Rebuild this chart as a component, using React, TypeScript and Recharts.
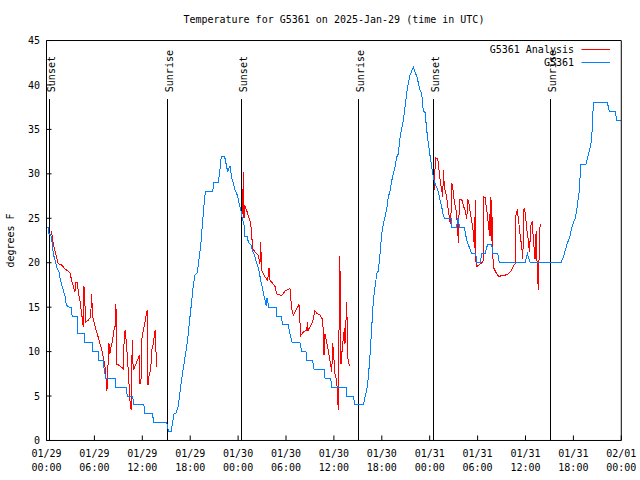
import React from 'react';
import { LineChart, Line, XAxis, YAxis, ReferenceLine, Legend } from 'recharts';

const FONT = '"DejaVu Sans Mono", "Liberation Mono", monospace';

// hours since 2025-01-29 00:00 UTC -> degrees F
const observed: [number, number][] = [
  [0, 24], [0.2, 24], [0.3, 23.3], [0.6, 23], [0.85, 21], [1.15, 20], [1.35, 19.3], [1.55, 19],
  [1.75, 18], [2.0, 17.2], [2.3, 16.3], [2.5, 15.2], [2.9, 15], [3.15, 15], [3.2, 14], [3.85, 14],
  [3.9, 12], [4.77, 12], [4.8, 11], [5.73, 11], [5.8, 10], [6.48, 10], [6.55, 9], [7.1, 9],
  [7.2, 8.2], [7.4, 7], [8.66, 7], [8.7, 6], [10.04, 6], [10.1, 5], [10.8, 5], [10.9, 4],
  [12.2, 4], [12.3, 3], [13.3, 3], [13.4, 2], [15.05, 2], [15.3, 1], [15.6, 1], [15.97, 3],
  [16.2, 3], [16.5, 3.9], [16.7, 5.25], [16.9, 6.75], [17.1, 7.9], [17.35, 9.4], [17.55, 10.5],
  [17.76, 12], [17.97, 13.9], [18.2, 15.75], [18.4, 17.6], [18.6, 18.6], [18.9, 18.9], [19.1, 20.4],
  [19.3, 21.75], [19.5, 24], [19.7, 26.25], [19.9, 28], [20.8, 28], [20.97, 29], [21.5, 29],
  [21.7, 30.2], [21.9, 32], [22.3, 32], [22.5, 31.1], [22.7, 30.2], [22.9, 30.8], [23.0, 30.8],
  [23.2, 29.6], [23.4, 28.9], [23.6, 28.2], [23.9, 27.6], [24.05, 27], [24.35, 25.9], [24.52, 25],
  [24.74, 24.2], [24.86, 23], [25.15, 23], [25.28, 22.3], [25.6, 22], [25.78, 21.4], [26.03, 20.9],
  [26.24, 20.2], [26.45, 19.7], [26.62, 19.1], [26.83, 18], [27.03, 17.2], [27.24, 16.3],
  [27.45, 15.5], [27.53, 15.1], [27.6, 16], [27.7, 16], [27.79, 15], [28.75, 15], [28.83, 14],
  [29.46, 14], [29.54, 13], [30.29, 13], [30.5, 12], [30.79, 11], [31.75, 11], [31.96, 10],
  [32.5, 10], [32.59, 9], [33.34, 9], [33.51, 8], [34.8, 8], [34.89, 7], [35.6, 7], [35.72, 6],
  [37.52, 6], [37.6, 5], [38.43, 5], [38.65, 4], [39.69, 4], [39.9, 4.9], [40.11, 5.6],
  [40.32, 7.1], [40.53, 9.75], [40.74, 12.75], [40.94, 15.75], [41.15, 17.25], [41.37, 18.75],
  [41.57, 19.1], [41.78, 21], [41.99, 23.25], [42.2, 24.4], [42.4, 25.1], [42.62, 26.1],
  [42.82, 27.4], [43.03, 28.1], [43.25, 29.25], [43.45, 30], [43.66, 30.75], [43.87, 31.9],
  [44.07, 32.25], [44.29, 34.1], [44.5, 35.1], [44.7, 36], [44.91, 37.5], [45.13, 39.2],
  [45.33, 40.3], [45.54, 41.1], [45.75, 41.6], [45.95, 42], [46.17, 41.4], [46.38, 41],
  [46.79, 39.4], [47.0, 39], [47.2, 37.1], [47.42, 36.9], [47.63, 34.9], [47.83, 33.4],
  [48.05, 32], [48.26, 30.75], [48.46, 29.6], [48.67, 28.9], [48.88, 28.5], [49.09, 27.9],
  [49.3, 27], [49.51, 26.25], [49.71, 25.3], [49.84, 25], [50.69, 25], [50.76, 24], [51.39, 24],
  [51.47, 25], [51.6, 25], [51.72, 24], [52.34, 24], [52.64, 22.5], [52.85, 22], [53.27, 21],
  [53.77, 21], [53.9, 20], [54.31, 20], [54.52, 21], [54.94, 21], [55.23, 22], [55.78, 22],
  [55.9, 21], [56.53, 21], [56.73, 20], [59.95, 20], [60.24, 21], [60.58, 20], [64.47, 20],
  [64.87, 21], [65.17, 22], [65.58, 23], [65.8, 24], [66.22, 25], [66.43, 26], [66.72, 28],
  [66.93, 31], [67.56, 31], [67.88, 32.2], [68.18, 33.2], [68.31, 34.3], [68.51, 38], [70.26, 38],
  [70.51, 37], [71.23, 37], [71.44, 36], [72, 36],
];

// analysis runs: three nightly pieces, nulls break the line
const analysis: [number, number | null][] = [
  [0.64, 23.6], [0.76, 22.5], [1.05, 21.4], [1.47, 19.9], [1.89, 19.75], [2.31, 19.3], [2.93, 18.9],
  [3.15, 18], [3.43, 17.1], [3.56, 16.7], [3.68, 17.8], [3.9, 17.8], [3.97, 16.7], [4.19, 15.75],
  [4.4, 14.25], [4.52, 13.5], [4.6, 12.8], [4.69, 17.4], [4.81, 15.9], [4.85, 13.3], [5.19, 13.5],
  [5.53, 13.9], [5.65, 16.5], [5.78, 13.9], [6.07, 12.9], [6.35, 12], [6.6, 11.25], [6.82, 10.5],
  [6.94, 10.1], [7.1, 9.4], [7.32, 8.4], [7.44, 7.1], [7.57, 5.6], [7.73, 9], [7.82, 11],
  [7.94, 9.75], [8.07, 10.5], [8.28, 11.25], [8.48, 12.6], [8.61, 12.9], [8.7, 15.4], [8.78, 8.6],
  [9.2, 8.4], [9.61, 8.06], [9.74, 11.8], [9.86, 12.4], [10.04, 10.5], [10.16, 9], [10.29, 7.1],
  [10.45, 4.5], [10.61, 3.4], [10.74, 11.25], [10.86, 7.9], [11.04, 8.25], [11.37, 9], [11.62, 9.56],
  [11.7, 6.4], [11.83, 6.4], [11.92, 11.25], [12.12, 12.4], [12.37, 13.5], [12.54, 14.4],
  [12.62, 14.7], [12.71, 6.2], [12.87, 7.5], [13.05, 7.9], [13.17, 10.1], [13.37, 10.9],
  [13.5, 11.8], [13.62, 12.45], [13.71, 10.1], [13.8, 8.25], [13.87, 8.4],
  [14, null],
  [24.49, 28.3], [24.57, 25.5], [24.65, 30.2], [24.74, 25], [24.82, 26.5], [25.07, 25.9],
  [25.49, 24.7], [25.7, 23.6], [25.78, 21.7], [26.11, 21.2], [26.53, 20.8], [26.74, 19.9],
  [26.83, 22.3], [26.95, 19.1], [27.37, 18.4], [27.7, 18], [27.87, 19.4], [28.0, 18], [28.6, 17.4],
  [28.84, 16.5], [29.46, 16.3], [29.87, 16.8], [30.5, 17.1], [30.71, 14.8], [30.92, 14.1],
  [31.34, 14.8], [31.63, 15.3], [31.84, 11.8], [32.17, 12.2], [32.59, 12.45], [32.7, 13.3],
  [32.76, 12.3], [32.88, 12.6], [33.22, 13.1], [33.42, 13.7], [33.63, 14.6], [33.85, 14.3],
  [34.26, 14.1], [34.6, 13.6], [34.76, 9.6], [34.89, 12], [35.1, 11], [35.3, 10.1], [35.51, 9],
  [35.73, 7.7], [35.85, 11], [36.02, 9], [36.14, 7.5], [36.35, 6.75], [36.52, 3.9], [36.6, 3.4],
  [36.68, 20.8], [36.8, 18.4], [36.89, 8.6], [37.06, 10.5], [37.31, 12.6], [37.39, 10.9],
  [37.61, 15.6], [37.73, 9.4], [37.93, 8.4],
  [40, null],
  [48.58, 28.2], [48.71, 31.8], [49.01, 31.7], [49.17, 30.4], [49.3, 29.4], [49.51, 28.1],
  [49.64, 27.4], [49.71, 30.4], [49.84, 28.5], [50.01, 27.9], [50.18, 27], [50.34, 25.9],
  [50.55, 24.6], [50.64, 24.4], [50.76, 29], [50.97, 27.9], [51.09, 26.8], [51.3, 25.9],
  [51.47, 24.4], [51.59, 22.2], [51.72, 27.1], [52.02, 27.1], [52.22, 26.4], [52.43, 25.9],
  [52.64, 24.9], [52.77, 27.2], [52.93, 26.6], [53.06, 25.7], [53.27, 24.7], [53.47, 23.4],
  [53.6, 21.7], [53.72, 27], [53.81, 19.5], [54.1, 19.7], [54.52, 20], [54.72, 20.2], [54.77, 27.4],
  [54.94, 27.3], [55.15, 25.9], [55.35, 24.4], [55.5, 23], [55.6, 27.4], [55.69, 22.5],
  [55.78, 27], [55.85, 22], [55.98, 19.5], [56.19, 19.1], [56.4, 18.75], [56.69, 18.4],
  [57.03, 18.6], [57.44, 18.6], [57.86, 18.75], [58.2, 19.1], [58.48, 19.6], [58.7, 19.9],
  [58.82, 25.7], [58.99, 25.9], [59.2, 24.2], [59.32, 23.2], [59.54, 21.7], [59.66, 20.4],
  [59.82, 26.2], [59.95, 25.7], [60.16, 23.8], [60.36, 22.5], [60.49, 21.2], [60.7, 24.4],
  [60.86, 24.6], [60.99, 22.5], [61.2, 20.4], [61.33, 23.6], [61.49, 18.75], [61.62, 16.9],
  [61.7, 20.6], [61.83, 24.4],
];

const eventHours = [0.34, 15.13, 24.4, 39.06, 48.46, 63.12];
const eventNames = ['Sunset', 'Sunrise', 'Sunset', 'Sunrise', 'Sunset', 'Sunrise'];
const eventTop = 38.4;

const seriesOrder = ['G5361 Analysis', 'G5361'];

const majorTicks = [0, 6, 12, 18, 24, 30, 36, 42, 48, 54, 60, 66, 72];
const minorTicks = [
  0, 2, 4, 6, 8, 10, 12, 14, 16, 18, 20, 22, 24, 26, 28, 30, 32, 34, 36,
  38, 40, 42, 44, 46, 48, 50, 52, 54, 56, 58, 60, 62, 64, 66, 68, 70, 72,
];
const tickDates = ['01/29', '01/29', '01/29', '01/29', '01/30', '01/30', '01/30', '01/30', '01/31', '01/31', '01/31', '01/31', '02/01'];
const tickTimes = ['00:00', '06:00', '12:00', '18:00', '00:00', '06:00', '12:00', '18:00', '00:00', '06:00', '12:00', '18:00', '00:00'];
const tempTicks = [0, 5, 10, 15, 20, 25, 30, 35, 40, 45];

const observedRows = observed.map(([h, v]) => ({ h, v }));
const analysisRows = analysis.map(([h, v]) => ({ h, v }));

const TimeTick = ({ x, y, payload }: any) => {
  const i = majorTicks.indexOf(payload.value);
  if (i < 0) return null;
  return (
    <text x={x} y={y} textAnchor="middle" fontFamily={FONT} fontSize={10} fill="#000">
      <tspan x={x} dy={0}>{tickDates[i]}</tspan>
      <tspan x={x} dy={13.5}>{tickTimes[i]}</tspan>
    </text>
  );
};

const LegendBox = ({ payload }: any) => (
  <div style={{ fontFamily: FONT, fontSize: 10, color: '#000' }}>
    {(payload || []).map((e: any) => (
      <div key={e.value} style={{ display: 'flex', justifyContent: 'flex-end', alignItems: 'center', height: 13, lineHeight: '13px' }}>
        <span>{e.value}</span>
        <svg width={36} height={13} style={{ display: 'block' }}>
          <line x1={7.5} x2={36} y1={6.5} y2={6.5} stroke={e.color} strokeWidth={1} />
        </svg>
      </div>
    ))}
  </div>
);

// thin axes: the plot box is set by the chart margin
const THIN = 0.01;

const axisCommon = {
  type: 'number' as const,
  dataKey: 'h',
  domain: [0, 72],
  allowDataOverflow: true,
  interval: 0 as const,
  height: THIN,
  axisLine: { stroke: '#000' },
  tickLine: { stroke: '#000' },
};

export default function App() {
  return (
    <div style={{ position: 'absolute', left: 0, top: 0, width: 640, height: 480, background: '#fff' }}>
      <LineChart width={640} height={480} margin={{ top: 40.5, right: 18.7, bottom: 39.5, left: 46.5 }}>
        <XAxis {...axisCommon} xAxisId="b" ticks={majorTicks} tickSize={-5} tickMargin={22} tick={<TimeTick />} />
        <XAxis {...axisCommon} xAxisId="bm" ticks={minorTicks} tickSize={-3} tick={false} axisLine={false} />
        <XAxis
          {...axisCommon}
          xAxisId="t"
          orientation="top"
          ticks={majorTicks}
          tickSize={-5}
          tick={false}
          label={({ viewBox }: any) => (
            <text x={viewBox.x + viewBox.width / 2} y={viewBox.y - 17.5} textAnchor="middle" fontFamily={FONT} fontSize={10} fill="#000">
              Temperature for G5361 on 2025-Jan-29 (time in UTC)
            </text>
          )}
        />
        <XAxis {...axisCommon} xAxisId="tm" orientation="top" ticks={minorTicks} tickSize={-3} tick={false} axisLine={false} />
        <YAxis
          yAxisId="l"
          type="number"
          domain={[0, 45]}
          allowDataOverflow
          ticks={tempTicks}
          interval={0}
          width={THIN}
          tickSize={-5}
          tickMargin={11.5}
          axisLine={{ stroke: '#000' }}
          tickLine={{ stroke: '#000' }}
          tick={{ fill: '#000', fontSize: 10, fontFamily: FONT }}
          label={({ viewBox }: any) => {
            const lx = viewBox.x - 32.5;
            const ly = viewBox.y + viewBox.height / 2;
            return (
              <text x={lx} y={ly} transform={`rotate(-90 ${lx} ${ly})`} textAnchor="middle" fontFamily={FONT} fontSize={10} fill="#000">
                degrees F
              </text>
            );
          }}
        />
        <YAxis
          yAxisId="r"
          orientation="right"
          type="number"
          domain={[0, 45]}
          allowDataOverflow
          ticks={tempTicks}
          interval={0}
          width={THIN}
          tickSize={-5}
          tick={false}
          axisLine={{ stroke: '#000' }}
          tickLine={{ stroke: '#000' }}
        />
        <Legend
          layout="vertical"
          align="center"
          verticalAlign="middle"
          itemSorter={(e: any) => seriesOrder.indexOf(e.value)}
          content={<LegendBox />}
          wrapperStyle={{ top: 42.5, left: 400, width: 210, margin: 0 }}
        />
        {eventHours.map((h, i) => (
          <ReferenceLine
            key={i}
            xAxisId="b"
            yAxisId="l"
            segment={[{ x: h, y: 0 }, { x: h, y: eventTop }]}
            stroke="#000"
            strokeWidth={1}
            shapeRendering="crispEdges"
            label={({ viewBox }: any) => {
              const tx = viewBox.x + 5.5;
              const ty = viewBox.y - 7;
              return (
                <text x={tx} y={ty} transform={`rotate(-90 ${tx} ${ty})`} textAnchor="start" fontFamily={FONT} fontSize={10} fill="#000">
                  {eventNames[i]}
                </text>
              );
            }}
          />
        ))}
        {/* gnuplot png lines are not antialiased */}
        <Line
          xAxisId="b"
          yAxisId="l"
          data={analysisRows}
          dataKey="v"
          name="G5361 Analysis"
          type="linear"
          stroke="#ff0000"
          strokeWidth={1}
          shapeRendering="crispEdges"
          dot={false}
          activeDot={false}
          isAnimationActive={false}
        />
        <Line
          xAxisId="b"
          yAxisId="l"
          data={observedRows}
          dataKey="v"
          name="G5361"
          type="linear"
          stroke="#0080ff"
          strokeWidth={1}
          shapeRendering="crispEdges"
          dot={false}
          activeDot={false}
          isAnimationActive={false}
        />
      </LineChart>
    </div>
  );
}
